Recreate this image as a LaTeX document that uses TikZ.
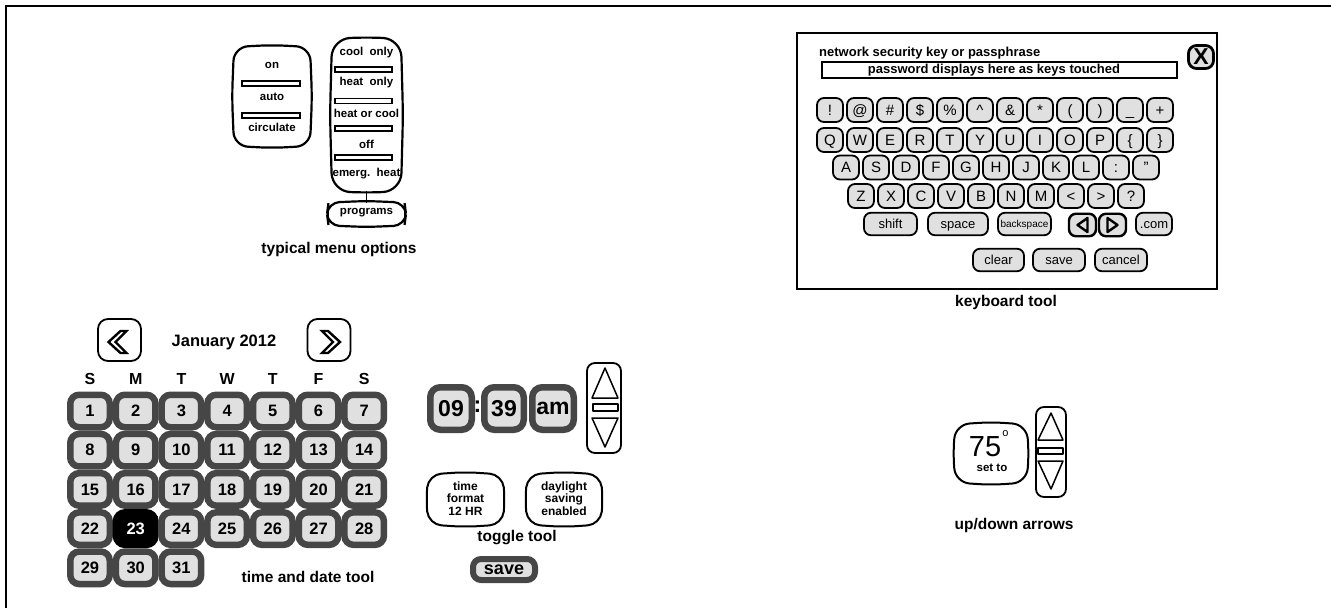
\documentclass[tikz,border=0pt]{standalone}
\usepackage{fontspec}
\setmainfont{Liberation Sans}
\usetikzlibrary{calc}
\definecolor{keyfill}{RGB}{224,224,224}
\definecolor{celldark}{RGB}{70,70,70}
% tv-shaped frame around a node: [style]{node}{bulge in pt}{corner radius}
\newcommand\tvframe[4][]{%
  \draw[line width=2pt,rounded corners=#4,#1] let \p1=(#2.south west), \p2=(#2.north east) in
    ({\x1-#3pt},{(\y1+\y2)/2}) -- (\x1,\y2) -- ({(\x1+\x2)/2},{\y2+#3pt}) -- (\x2,\y2)
    -- ({\x2+#3pt},{(\y1+\y2)/2}) -- (\x2,\y1) -- ({(\x1+\x2)/2},{\y1-#3pt}) -- (\x1,\y1) -- cycle;}
\begin{document}
\begin{tikzpicture}[x=1pt,y=-1pt,
  lab/.style={font=\fontsize{15.5}{17}\selectfont\bfseries, inner sep=0},
  mtxt/.style={font=\fontsize{11.5}{12.5}\selectfont\bfseries, inner sep=0, align=center},
  bar/.style={draw, line width=1.1pt, fill=white, minimum height=5pt, inner sep=0},
  tvn/.style={inner sep=0, outer sep=0},
  key/.style={draw, line width=1.8pt, fill=keyfill, rounded corners=7pt, minimum width=26pt, minimum height=24pt, inner sep=0, text height=12.8pt, text depth=2pt, font=\fontsize{15}{15}\selectfont},
  wkey/.style={key, minimum height=22.5pt, text height=11pt, text depth=2pt, font=\fontsize{13}{13}\selectfont},
  cell/.style={draw=celldark, line width=6.5pt, fill=keyfill, rounded corners=9pt, minimum width=39.5pt, minimum height=32.5pt, inner sep=0, font=\fontsize{16.5}{18}\selectfont\bfseries},
  sel/.style={draw=black, fill=black, text=white},
  tcell/.style={draw=celldark, line width=6.5pt, fill=keyfill, rounded corners=10pt, minimum height=42.5pt, inner sep=0, font=\fontsize{23}{25}\selectfont\bfseries},
  updown/.style={draw, line width=1.8pt, rounded corners=8pt, inner sep=0},
  arr/.style={line width=1.5pt, line join=round},
  navbtn/.style={draw, line width=1.8pt, rounded corners=10pt, minimum width=43pt, minimum height=42pt, inner sep=0}
]
\useasboundingbox (0,0) rectangle (1331,608);
\draw[line width=2.3pt] (6,608) -- (6,6) -- (1331,6);

% ---------------- typical menu options ----------------
\node[tvn, minimum width=76pt, minimum height=99pt] (menuA) at (272,96.5) {};
\tvframe[line width=2.2pt]{menuA}{2}{14pt}
\node[mtxt] (mOn) at (272,65) {on};
\node[bar, minimum width=58pt] (barA1) at (271,83.5) {};
\node[mtxt] (mAuto) at (272,97) {auto};
\node[bar, minimum width=58pt] (barA2) at (271,115.5) {};
\node[mtxt] (mCirc) at (272,127) {circulate};

\node[tvn, minimum width=69pt, minimum height=152pt] (menuB) at (366.5,115) {};
\tvframe[line width=2.2pt]{menuB}{2}{18pt}
\node[mtxt] (mCool) at (366.5,53) {cool\ \ only};
\node[bar, minimum width=57pt] (barB1) at (363.5,69.5) {};
\node[mtxt] (mHeat) at (366.5,83) {heat\ \ only};
\node[bar, minimum width=57pt] (barB2) at (363.5,101) {};
\node[mtxt] (mHoC) at (366.5,113) {heat or cool};
\node[bar, minimum width=57pt] (barB3) at (363.5,128.5) {};
\node[mtxt] (mOff) at (366.5,144) {off};
\node[bar, minimum width=57pt] (barB4) at (363.5,157.5) {};
\node[mtxt] (mEm) at (366.5,174) {emerg.\ \ heat};

\node[tvn, minimum width=76pt, minimum height=23pt] (prog) at (366.5,214) {};
\tvframe[line width=2.2pt]{prog}{1.5}{11pt}
\node[mtxt] (mProg) at (366.5,213) {programs};
\draw[line width=1.5pt] (menuB.south) -- (prog.north);
\node[lab] (labMenu) at (339,249) {typical menu options};

% ---------------- keyboard tool ----------------
\draw[line width=1.6pt] (797,33) rectangle (1217,289);
\node[font=\fontsize{13}{14}\selectfont\bfseries, anchor=west, inner sep=0] (kbHead) at (819,53) {network security key or passphrase};
\node[draw, line width=1.6pt, minimum width=355pt, minimum height=16pt, inner sep=0] (pwBox) at (999.5,70) {};
\node[font=\fontsize{13}{14}\selectfont\bfseries, inner sep=0] (pwTxt) at (994,70) {password displays here as keys touched};
\node[draw, line width=2.8pt, fill=keyfill, rounded corners=8pt, minimum width=25pt, minimum height=23pt, inner sep=0, font=\fontsize{23}{23}\selectfont\bfseries] (closeX) at (1201,57) {X};

\foreach \k [count=\i from 0] in {!,@,\#,\$,\%,\textasciicircum,\&,*,{(},{)},\_,+}
  \node[key] (ka\i) at ({830+30*\i},110) {\k};
\foreach \k [count=\i from 0] in {Q,W,E,R,T,Y,U,I,O,P,\{,\}}
  \node[key] (kb\i) at ({830+30*\i},140) {\k};
\foreach \k [count=\i from 0] in {A,S,D,F,G,H,J,K,L,:,{"}}
  \node[key] (kc\i) at ({846+30*\i},167.5) {\k};
\foreach \k [count=\i from 0] in {Z,X,C,V,B,N,M,<,>,?}
  \node[key] (kd\i) at ({861+30*\i},196) {\k};

\node[wkey, minimum width=53pt] (kShift) at (890.5,224) {shift};
\node[wkey, minimum width=60pt] (kSpace) at (958,224) {space};
\node[wkey, minimum width=53pt, font=\fontsize{10}{10}\selectfont, text height=9pt] (kBack) at (1024.5,224) {backspace};
\node[wkey, minimum width=27pt, line width=2.4pt] (kLeft) at (1082.5,225) {};
\node[wkey, minimum width=27pt, line width=2.4pt] (kRight) at (1112.5,225) {};
\node[wkey, minimum width=36pt] (kCom) at (1154,224) {.com};
\draw[line width=2.4pt, line join=round] ($(kLeft)+(-5,0)$) -- ($(kLeft)+(5,-7)$) -- ($(kLeft)+(5,7)$) -- cycle;
\draw[line width=2.4pt, line join=round] ($(kRight)+(5,0)$) -- ($(kRight)+(-5,-7)$) -- ($(kRight)+(-5,7)$) -- cycle;

\node[wkey, minimum width=51pt] (kClear) at (998.5,260) {clear};
\node[wkey, minimum width=52pt] (kSave) at (1059,260) {save};
\node[wkey, minimum width=52pt] (kCancel) at (1121,260) {cancel};
\node[lab] (labKb) at (1006,302) {keyboard tool};

% ---------------- calendar ----------------
\node[navbtn] (prev) at (119.5,340) {};
\node[navbtn] (next) at (329,340) {};
\draw[line width=2.4pt, line join=miter] ($(prev)+(1,-9)$) -- ($(prev)+(-11,2)$) -- ($(prev)+(1,13)$) -- ($(prev)+(7,13)$) -- ($(prev)+(-4,2)$) -- ($(prev)+(7,-9)$) -- cycle;
\draw[line width=2.4pt, line join=miter] ($(next)+(-1,-9)$) -- ($(next)+(11,2)$) -- ($(next)+(-1,13)$) -- ($(next)+(-7,13)$) -- ($(next)+(4,2)$) -- ($(next)+(-7,-9)$) -- cycle;
\node[font=\fontsize{16.5}{18}\selectfont\bfseries, inner sep=0] (month) at (224,342) {January 2012};
\foreach \w [count=\i from 0] in {S,M,T,W,T,F,S}
  \node[font=\fontsize{16}{18}\selectfont\bfseries, inner sep=0] (wd\i) at ({90+45.7*\i},379) {\w};
\foreach \d in {1,...,31}{
  \pgfmathtruncatemacro\c{mod(\d-1,7)}
  \pgfmathtruncatemacro\r{div(\d-1,7)}
  \ifnum\d=23 \def\st{sel}\else\def\st{}\fi
  \node[cell,\st] (day\d) at ({90+45.7*\c},{411+39.2*\r}) {\d};
}
\node[lab] (labCal) at (308,577) {time and date tool};

% ---------------- time / toggle ----------------
\node[tcell, minimum width=41.5pt] (hh) at (451,408.5) {09};
\node[font=\fontsize{23}{25}\selectfont\bfseries, inner sep=0] (colon) at (477.5,407) {:};
\node[tcell, minimum width=39.5pt] (mm) at (504,408.5) {39};
\node[tcell, minimum width=41.5pt] (ampm) at (553,408.5) {am};
\node[updown, minimum width=34pt, minimum height=90pt] (tArr) at (604,408) {};
\draw[arr] (605,368) -- (618,398) -- (592,398) -- cycle;
\draw[arr, line width=2pt] (593,403.5) rectangle (618,410.5);
\draw[arr] (592,418) -- (618,418) -- (605,447) -- cycle;

\node[tvn, minimum width=74pt, minimum height=50pt] (tog1) at (465.5,499.5) {};
\tvframe{tog1}{2.5}{13pt}
\node[mtxt, font=\fontsize{12}{12.5}\selectfont\bfseries] (tog1t) at (465.5,498.5) {time\\format\\12 HR};
\node[tvn, minimum width=73pt, minimum height=50pt] (tog2) at (564,499.5) {};
\tvframe{tog2}{2.5}{13pt}
\node[mtxt, font=\fontsize{12}{12.5}\selectfont\bfseries] (tog2t) at (564,498.5) {daylight\\saving\\enabled};
\node[lab] (labTog) at (517,538) {toggle tool};
\node[draw=celldark, line width=6pt, fill=keyfill, rounded corners=8pt, minimum width=62pt, minimum height=21pt, inner sep=0, font=\fontsize{18}{18}\selectfont\bfseries] (tSave) at (504,569.5) {save};

% ---------------- up/down arrows ----------------
\node[tvn, minimum width=71pt, minimum height=58pt] (temp) at (991,453.5) {};
\tvframe{temp}{2.5}{14pt}
\node[font=\fontsize{29}{30}\selectfont, inner sep=0] (t75) at (985,447) {75};
\node[font=\fontsize{11}{11}\selectfont, inner sep=0] (tdeg) at (1005.5,434) {o};
\node[font=\fontsize{11.5}{12}\selectfont\bfseries, inner sep=0] (tset) at (992,468) {set to};
\node[updown, minimum width=30pt, minimum height=90pt] (uArr) at (1051,452) {};
\draw[arr] (1051,413) -- (1063,440) -- (1038,440) -- cycle;
\draw[arr, line width=2pt] (1038,448) rectangle (1063,454);
\draw[arr] (1038,461) -- (1063,461) -- (1051,489) -- cycle;
\node[lab] (labUD) at (1014,525) {up/down arrows};
\end{tikzpicture}
\end{document}
